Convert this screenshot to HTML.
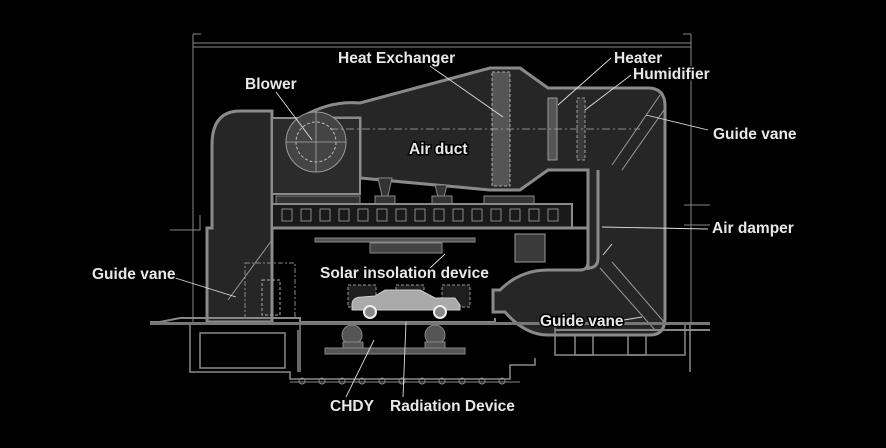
<!DOCTYPE html>
<html><head><meta charset="utf-8"><style>
html,body{margin:0;padding:0;background:#000;}
svg{display:block}
text{font-family:"Liberation Sans",sans-serif;font-weight:bold;font-size:15.5px;fill:#e8e8e8;}
.lb{stroke:#000;stroke-width:3px;paint-order:stroke;}
</style></head><body>
<svg width="886" height="448" viewBox="0 0 886 448" xmlns="http://www.w3.org/2000/svg">
<rect width="886" height="448" fill="#000"/>
<g fill="none" stroke="#888" stroke-width="1">
 <path d="M193,34 V322 M691,34 V322 M193,43 H691 M193,47 H691"/>
 <path d="M193,34 h8 M691,34 h-8"/>
 <path d="M200,215 V230 H170 M684,205 h26 M684,225 h26"/>
</g>
<path d="M272,111 H240 Q212,111 212,145 V228 H207 V322 H272 Z" fill="#262626" stroke="#8a8a8a" stroke-width="3"/>
<path d="M360,103 Q330,100 300,118 H360 V178 L490,190 H520 L548,170 H588 V262 Q588,270 580,270 H548 Q520,270 500,290 H493 V312 H505 Q525,335 548,335 H650 Q665,335 665,318 V106 Q665,88 648,88 H548 L520,68 H490 L360,103 Z" fill="#262626" stroke="#8a8a8a" stroke-width="3"/>
<path d="M598,170 V258 Q598,268 588,268" fill="none" stroke="#8a8a8a" stroke-width="3"/>
<rect x="272" y="118" width="88" height="76" fill="#2b2b2b" stroke="#8a8a8a" stroke-width="2"/>
<circle cx="316" cy="142" r="30" fill="#444" stroke="#999" stroke-width="1"/>
<circle cx="316" cy="142" r="20" fill="none" stroke="#bbb" stroke-width="1" stroke-dasharray="3,2"/>
<path d="M286,142 H346 M316,112 V172" stroke="#aaa" stroke-width="0.8"/>
<rect x="492" y="72" width="18" height="114" fill="#555" stroke="#aaa" stroke-dasharray="3,2"/>
<rect x="548" y="98" width="9" height="62" fill="#555" stroke="#999"/>
<rect x="577" y="98" width="8" height="62" fill="#3a3a3a" stroke="#999" stroke-dasharray="3,2"/>
<path d="M330,129 H640" stroke="#aaa" stroke-dasharray="8,3,2,3" stroke-width="0.8"/>
<path d="M612,165 L660,95 M622,170 L664,110 M600,268 L655,330 M612,262 L664,322" stroke="#999" stroke-width="1"/>
<g fill="#333" stroke="#888">
 <path d="M378,178 h14 l-4,18 h-6 Z"/><path d="M435,185 h12 l-3,12 h-6 Z"/>
 <rect x="276" y="196" width="84" height="8"/><rect x="375" y="196" width="20" height="8"/><rect x="432" y="196" width="20" height="8"/><rect x="484" y="196" width="50" height="8"/>
</g>
<rect x="272" y="204" width="300" height="24" fill="#1a1a1a" stroke="#8a8a8a" stroke-width="2"/>
<g fill="none" stroke="#888">
 <rect x="282" y="209" width="10" height="12"/><rect x="301" y="209" width="10" height="12"/><rect x="320" y="209" width="10" height="12"/><rect x="339" y="209" width="10" height="12"/><rect x="358" y="209" width="10" height="12"/><rect x="377" y="209" width="10" height="12"/><rect x="396" y="209" width="10" height="12"/><rect x="415" y="209" width="10" height="12"/><rect x="434" y="209" width="10" height="12"/><rect x="453" y="209" width="10" height="12"/><rect x="472" y="209" width="10" height="12"/><rect x="491" y="209" width="10" height="12"/><rect x="510" y="209" width="10" height="12"/><rect x="529" y="209" width="10" height="12"/><rect x="548" y="209" width="10" height="12"/>
</g>
<path d="M272,228 H588 V270 M272,228 V322" fill="none" stroke="#8a8a8a" stroke-width="3"/>
<rect x="315" y="238" width="160" height="4" fill="#555" stroke="#888"/>
<rect x="370" y="243" width="72" height="10" fill="#444" stroke="#888"/>
<rect x="515" y="234" width="30" height="28" fill="#3a3a3a" stroke="#999"/>
<g fill="#1e1e1e" stroke="#999" stroke-dasharray="3,2">
 <rect x="348" y="285" width="28" height="22"/><rect x="396" y="285" width="28" height="22"/><rect x="442" y="285" width="28" height="22"/>
</g>
<path d="M352,305 Q352,297 362,297 L375,296 L385,290 H420 L435,298 H455 L460,305 V310 H352 Z" fill="#aaa" stroke="#ccc"/>
<circle cx="370" cy="312" r="6" fill="#888" stroke="#eee" stroke-width="2"/>
<circle cx="440" cy="312" r="6" fill="#888" stroke="#eee" stroke-width="2"/>
<path d="M150,322 H160 L180,318 H300 V322 H495 V318 M555,330 H710" stroke="#888" stroke-width="2" fill="none"/>
<rect x="150" y="322" width="560" height="3" fill="#777"/>
<g fill="none" stroke="#8a8a8a" stroke-width="1.5">
 <path d="M190,325 V372 H290 V379 H510 V365 H535 V358 M300,325 V372 M298,330 V372"/>
 <rect x="200" y="333" width="85" height="35"/>
 <path d="M555,325 V355 H685 V325 M690,325 V372"/>
 <rect x="575" y="335" width="18" height="20"/><rect x="628" y="335" width="18" height="20"/>
</g>
<g fill="#555" stroke="#888">
 <circle cx="352" cy="335" r="10"/><circle cx="435" cy="335" r="10"/>
 <rect x="325" y="348" width="140" height="6"/><rect x="343" y="342" width="20" height="6"/><rect x="425" y="342" width="20" height="6"/>
</g>
<g stroke="#888" fill="none">
 <path d="M290,382 H520"/><circle cx="302" cy="381" r="3"/><circle cx="322" cy="381" r="3"/><circle cx="342" cy="381" r="3"/><circle cx="362" cy="381" r="3"/><circle cx="382" cy="381" r="3"/><circle cx="402" cy="381" r="3"/><circle cx="422" cy="381" r="3"/><circle cx="442" cy="381" r="3"/><circle cx="462" cy="381" r="3"/><circle cx="482" cy="381" r="3"/><circle cx="502" cy="381" r="3"/>
</g>
<rect x="245" y="263" width="50" height="55" fill="none" stroke="#888" stroke-dasharray="5,2,2,2"/>
<rect x="262" y="280" width="18" height="35" fill="none" stroke="#aaa" stroke-dasharray="3,2"/>
<path d="M228,300 L272,240" stroke="#999"/>
<g stroke="#ddd" stroke-width="0.9" fill="none">
 <path d="M276,92 L312,140"/><path d="M430,66 L503,117"/><path d="M611,58 L558,105"/><path d="M631,75 L585,110"/>
 <path d="M708,130 L646,115"/><path d="M708,229 L602,227"/><path d="M612,244 L603,255"/>
 <path d="M172,277 L236,297"/><path d="M430,268 L445,254"/><path d="M624,320 L642,317"/>
 <path d="M346,397 L374,340"/><path d="M403,397 L406,322"/>
</g>
<text class="lb" x="338" y="63">Heat Exchanger</text>
<text class="lb" x="245" y="89">Blower</text>
<text class="lb" x="614" y="63">Heater</text>
<text class="lb" x="633" y="79">Humidifier</text>
<text class="lb" x="713" y="139">Guide vane</text>
<text class="lb" x="409" y="154">Air duct</text>
<text class="lb" x="712" y="233">Air damper</text>
<text class="lb" x="92" y="279">Guide vane</text>
<text class="lb" x="320" y="278">Solar insolation device</text>
<text class="lb" x="540" y="326">Guide vane</text>
<text class="lb" x="330" y="411">CHDY</text>
<text class="lb" x="390" y="411">Radiation Device</text>
</svg>
</body></html>
